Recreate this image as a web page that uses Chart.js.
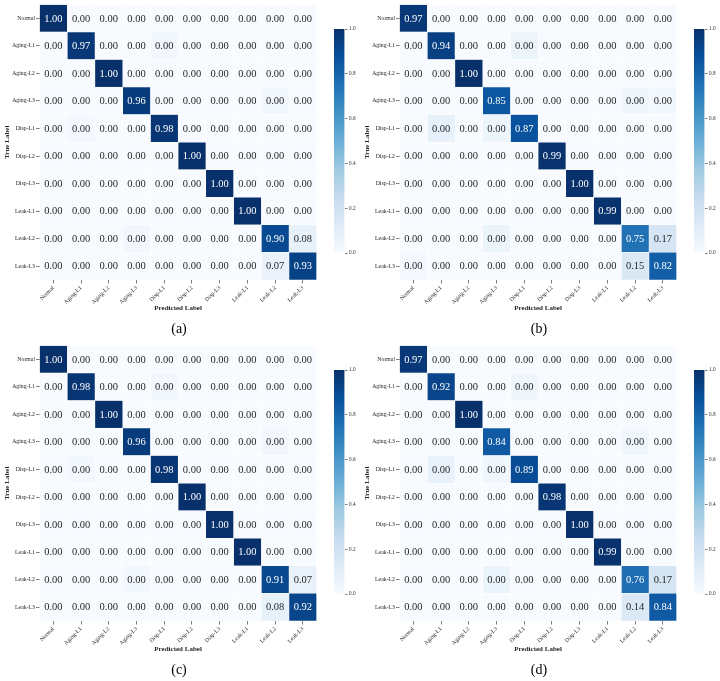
<!DOCTYPE html>
<html><head><meta charset="utf-8">
<script src="https://cdn.jsdelivr.net/npm/chart.js@4"></script>
<style>
html,body{margin:0;padding:0;background:#fff;}
body{width:720px;height:681px;position:relative;overflow:hidden;}
.panel{position:absolute;width:360px;height:341px;}
.hm{position:absolute;left:0;top:0;}
.cb{position:absolute;left:330px;top:20px;}
</style></head><body>
<div class="panel" style="left:0;top:0"><canvas id="hmA" class="hm" width="330" height="341"></canvas><canvas id="cbA" class="cb" width="40" height="245"></canvas></div>
<div class="panel" style="left:360px;top:0"><canvas id="hmB" class="hm" width="330" height="341"></canvas><canvas id="cbB" class="cb" width="40" height="245"></canvas></div>
<div class="panel" style="left:0;top:341px"><canvas id="hmC" class="hm" width="330" height="341"></canvas><canvas id="cbC" class="cb" width="40" height="245"></canvas></div>
<div class="panel" style="left:360px;top:341px"><canvas id="hmD" class="hm" width="330" height="341"></canvas><canvas id="cbD" class="cb" width="40" height="245"></canvas></div>
<script>
// ---------- data ----------
const rowLabels = ['Normal','Aging-L1','Aging-L2','Aging-L3','Disp-L1','Disp-L2','Disp-L3','Leak-L1','Leak-L2','Leak-L3'];
const colLabels = ['Normal','Aging-L1','Aging-L2','Aging-L3','Disp-L1','Disp-L2','Disp-L3','Leak-L1','Leak-L2','Leak-L3'];
const colorbarTicks = [0, 0.2, 0.4, 0.6, 0.8, 1.0];

const valuesA = [
 [1.00,0,0,0,0,0,0,0,0,0],
 [0,0.97,0,0,0,0,0,0,0,0],
 [0,0,1.00,0,0,0,0,0,0,0],
 [0,0,0,0.96,0,0,0,0,0,0],
 [0,0,0,0,0.98,0,0,0,0,0],
 [0,0,0,0,0,1.00,0,0,0,0],
 [0,0,0,0,0,0,1.00,0,0,0],
 [0,0,0,0,0,0,0,1.00,0,0],
 [0,0,0,0,0,0,0,0,0.90,0.08],
 [0,0,0,0,0,0,0,0,0.07,0.93]
];
const valuesB = [
 [0.97,0,0,0,0,0,0,0,0,0],
 [0,0.94,0,0,0,0,0,0,0,0],
 [0,0,1.00,0,0,0,0,0,0,0],
 [0,0,0,0.85,0,0,0,0,0,0],
 [0,0,0,0,0.87,0,0,0,0,0],
 [0,0,0,0,0,0.99,0,0,0,0],
 [0,0,0,0,0,0,1.00,0,0,0],
 [0,0,0,0,0,0,0,0.99,0,0],
 [0,0,0,0,0,0,0,0,0.75,0.17],
 [0,0,0,0,0,0,0,0,0.15,0.82]
];
const valuesC = [
 [1.00,0,0,0,0,0,0,0,0,0],
 [0,0.98,0,0,0,0,0,0,0,0],
 [0,0,1.00,0,0,0,0,0,0,0],
 [0,0,0,0.96,0,0,0,0,0,0],
 [0,0,0,0,0.98,0,0,0,0,0],
 [0,0,0,0,0,1.00,0,0,0,0],
 [0,0,0,0,0,0,1.00,0,0,0],
 [0,0,0,0,0,0,0,1.00,0,0],
 [0,0,0,0,0,0,0,0,0.91,0.07],
 [0,0,0,0,0,0,0,0,0.08,0.92]
];
const valuesD = [
 [0.97,0,0,0,0,0,0,0,0,0],
 [0,0.92,0,0,0,0,0,0,0,0],
 [0,0,1.00,0,0,0,0,0,0,0],
 [0,0,0,0.84,0,0,0,0,0,0],
 [0,0,0,0,0.89,0,0,0,0,0],
 [0,0,0,0,0,0.98,0,0,0,0],
 [0,0,0,0,0,0,1.00,0,0,0],
 [0,0,0,0,0,0,0,0.99,0,0],
 [0,0,0,0,0,0,0,0,0.76,0.17],
 [0,0,0,0,0,0,0,0,0.14,0.84]
];
// faint shading visible in cells annotated 0.00: [row, col, shade level]
const tintsA = [[1,4,0.03],[3,8,0.03],[4,1,0.025],[8,3,0.03]];
const tintsB = [[1,4,0.05],[3,8,0.04],[3,9,0.02],[4,1,0.08],[4,3,0.05],[8,3,0.06],[9,0,0.02]];
const tintsC = [[1,4,0.03],[3,8,0.03],[4,1,0.025],[8,3,0.03]];
const tintsD = [[1,4,0.04],[3,8,0.04],[4,1,0.07],[4,3,0.04],[8,3,0.06]];

// ---------- styling ----------
const F = 'Liberation Serif';
const BLUES = ['#f7fbff','#deebf7','#c6dbef','#9ecae1','#6baed6','#4292c6','#2171b5','#08519c','#08306b'];
function hex2rgb(h){return [parseInt(h.substr(1,2),16),parseInt(h.substr(3,2),16),parseInt(h.substr(5,2),16)];}
const BL = BLUES.map(hex2rgb);
function bluesRGB(v){
  v = Math.max(0, Math.min(1, v));
  const p = v*8, i = Math.min(7, Math.floor(p)), t = p - i;
  return BL[i].map((c,k)=>c + (BL[i+1][k]-c)*t);
}
function blues(v){const c=bluesRGB(v);return 'rgb('+c.map(x=>Math.round(x)).join(',')+')';}
function textColor(v){
  const c = bluesRGB(v).map(x=>{x/=255;return x<=0.03928?x/12.92:Math.pow((x+0.055)/1.055,2.4);});
  const lum = 0.2126*c[0]+0.7152*c[1]+0.0722*c[2];
  return lum > 0.408 ? '#262626' : '#ffffff';
}

function makeHeatmap(id, vals, tints, caption){
  const shade = vals.map(r=>r.slice());
  tints.forEach(([r,c,v])=>{shade[r][c]=v;});
  const datasets = colLabels.map((c,j)=>({
    data: rowLabels.map(()=>1),
    backgroundColor: rowLabels.map((_,i)=>blues(shade[i][j])),
    borderColor:'#ffffff', borderWidth:0.5, borderSkipped:false,
    barPercentage:1, categoryPercentage:1
  }));
  const annot = {
    id:'annot',
    afterDatasetsDraw(chart){
      const {ctx, scales:{x,y}, chartArea:a} = chart;
      ctx.save();
      ctx.font = '10.5px "'+F+'"';
      ctx.textAlign='center'; ctx.textBaseline='middle';
      for(let i=0;i<rowLabels.length;i++){
        for(let j=0;j<colLabels.length;j++){
          ctx.fillStyle = textColor(shade[i][j]);
          ctx.fillText(vals[i][j].toFixed(2), x.getPixelForValue(j+0.5), y.getPixelForValue(i)+0.5);
        }
      }
      ctx.fillStyle='#262626';
      ctx.font='bold 7px "'+F+'"';
      ctx.fillText('Predicted Label', (a.left+a.right)/2, 308);
      ctx.save();
      ctx.translate(7, (a.top+a.bottom)/2);
      ctx.rotate(-Math.PI/2);
      ctx.fillText('True Label', 0, 0);
      ctx.restore();
      ctx.fillStyle='#000';
      ctx.font='14px "'+F+'"';
      ctx.fillText(caption, 179, 329);
      ctx.restore();
    }
  };
  new Chart(document.getElementById(id), {
    type:'bar',
    data:{labels:rowLabels, datasets},
    options:{
      indexAxis:'y', responsive:false, animation:false, events:[], devicePixelRatio:1,
      layout:{padding:{left:0, top:3, right:13.3, bottom:0}},
      plugins:{legend:{display:false}, tooltip:{enabled:false}},
      scales:{
        x:{type:'linear', stacked:true, min:0, max:10, position:'bottom',
           afterFit:s=>{s.height=61;},
           afterBuildTicks:s=>{s.ticks=colLabels.map((_,j)=>({value:j+0.5}));},
           ticks:{autoSkip:false, maxRotation:45, minRotation:45, padding:1,
                  font:{family:F, size:5.8}, color:'#262626',
                  callback:(v)=>colLabels[Math.round(v-0.5)]},
           grid:{drawOnChartArea:false, drawTicks:true, tickLength:3.5, color:'#262626', lineWidth:0.6},
           border:{display:false}},
        y:{type:'category', stacked:true, position:'left',
           afterFit:s=>{s.width=39.5;},
           ticks:{autoSkip:false, padding:1, font:{family:F, size:5.8}, color:'#262626'},
           grid:{offset:false, drawOnChartArea:false, drawTicks:true, tickLength:3.5, color:'#262626', lineWidth:0.6},
           border:{display:false}}
      }
    },
    plugins:[annot]
  });
}

function makeColorbar(id){
  new Chart(document.getElementById(id), {
    type:'bar',
    data:{labels:[''], datasets:[{
      data:[[0,1]],
      backgroundColor:(c)=>{
        const a=c.chart.chartArea; if(!a) return BLUES[4];
        const g=c.chart.ctx.createLinearGradient(0,a.bottom,0,a.top);
        BLUES.forEach((col,k)=>g.addColorStop(k/8,col));
        return g;
      },
      borderWidth:0, barPercentage:1, categoryPercentage:1
    }]},
    options:{
      responsive:false, animation:false, events:[], devicePixelRatio:1,
      layout:{padding:{left:4, top:9, right:0, bottom:12}},
      plugins:{legend:{display:false}, tooltip:{enabled:false}},
      scales:{
        x:{display:false},
        y:{position:'right', min:0, max:1,
           afterFit:s=>{s.width=25.5;},
           afterBuildTicks:s=>{s.ticks=colorbarTicks.map(v=>({value:v}));},
           ticks:{font:{family:F, size:5.2}, color:'#262626', padding:1.5, callback:v=>Number(v).toFixed(1)},
           grid:{drawOnChartArea:false, drawTicks:true, tickLength:3, color:'#262626', lineWidth:0.6},
           border:{display:false}}
      }
    }
  });
}

makeHeatmap('hmA', valuesA, tintsA, '(a)');
makeHeatmap('hmB', valuesB, tintsB, '(b)');
makeHeatmap('hmC', valuesC, tintsC, '(c)');
makeHeatmap('hmD', valuesD, tintsD, '(d)');
['cbA','cbB','cbC','cbD'].forEach(makeColorbar);
</script>
</body></html>
